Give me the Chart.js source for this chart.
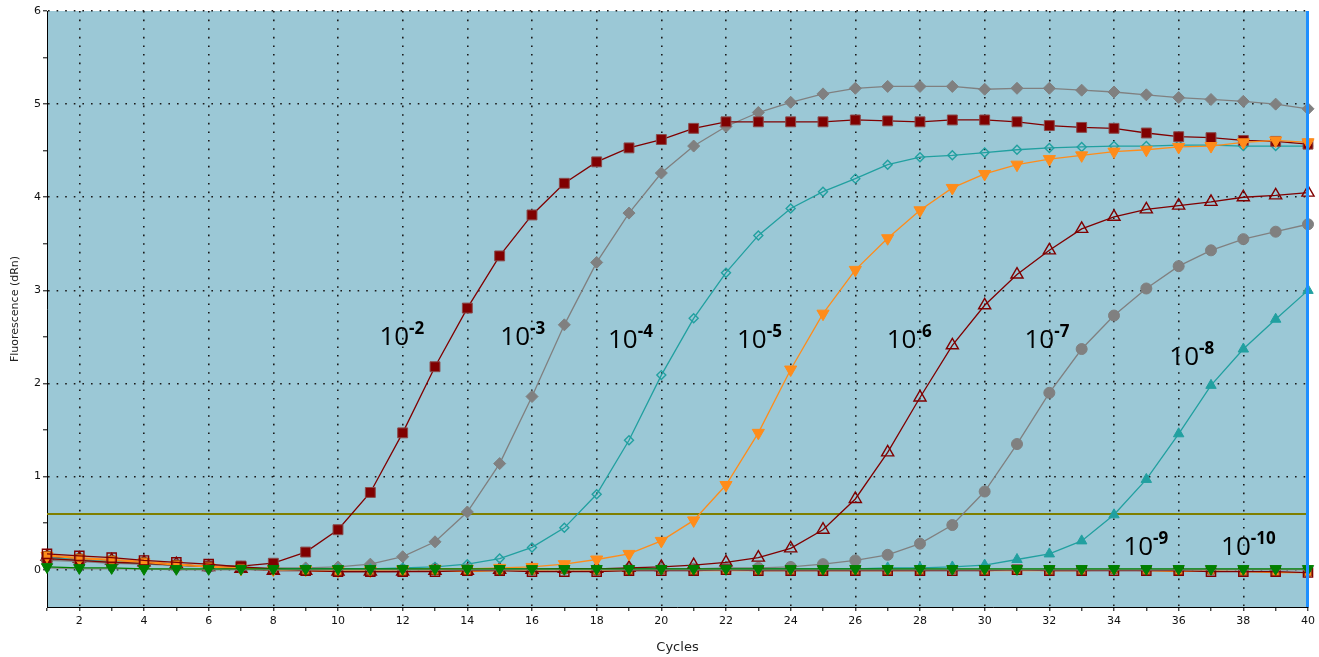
<!DOCTYPE html>
<html>
<head>
<meta charset="utf-8">
<script src="https://cdn.jsdelivr.net/npm/chart.js@4.4.1/dist/chart.umd.min.js"></script>
<style>
  html, body { margin: 0; padding: 0; background: #fff; }
  #wrap { width: 1319px; height: 657px; }
</style>
</head>
<body>
<div id="wrap"><canvas id="qpcr" width="1319" height="657"></canvas></div>
<script>
const cycles = [1,2,3,4,5,6,7,8,9,10,11,12,13,14,15,16,17,18,19,20,21,22,23,24,25,26,27,28,29,30,31,32,33,34,35,36,37,38,39,40];
const yTickValues = [0,0.5,1,1.5,2,2.5,3,3.5,4,4.5,5,5.5,6];
const thresholdValue = 0.6;

// dilution series (dRn per cycle)
const dil2 = [0.12,0.10,0.08,0.07,0.05,0.04,0.04,0.07,0.19,0.43,0.83,1.47,2.18,2.81,3.37,3.81,4.15,4.38,4.53,4.62,4.74,4.81,4.81,4.81,4.81,4.83,4.82,4.81,4.83,4.83,4.81,4.77,4.75,4.74,4.69,4.65,4.64,4.61,4.60,4.57];
const dil3 = [0.10,0.09,0.07,0.06,0.05,0.03,0.02,0.02,0.02,0.03,0.06,0.14,0.30,0.62,1.14,1.86,2.63,3.30,3.83,4.26,4.55,4.76,4.91,5.02,5.11,5.17,5.19,5.19,5.19,5.16,5.17,5.17,5.15,5.13,5.10,5.07,5.05,5.03,5.00,4.95];
const dil4 = [0.13,0.11,0.09,0.07,0.05,0.03,0.02,0.01,0.01,0.01,0.01,0.02,0.03,0.06,0.12,0.24,0.45,0.81,1.39,2.09,2.70,3.19,3.59,3.88,4.06,4.20,4.35,4.43,4.45,4.48,4.51,4.53,4.54,4.55,4.55,4.56,4.56,4.55,4.55,4.55];
const dil5 = [0.15,0.12,0.10,0.08,0.05,0.03,0.01,0.00,0.00,-0.01,-0.01,0.00,0.01,0.01,0.02,0.03,0.06,0.11,0.17,0.31,0.53,0.91,1.47,2.15,2.75,3.22,3.56,3.86,4.10,4.25,4.35,4.41,4.45,4.49,4.51,4.54,4.55,4.59,4.61,4.59];
const dil6 = [0.14,0.12,0.10,0.08,0.06,0.03,0.01,-0.01,-0.01,-0.02,-0.02,-0.02,-0.01,-0.01,0.00,0.00,0.01,0.01,0.02,0.03,0.05,0.08,0.13,0.23,0.43,0.76,1.26,1.85,2.41,2.84,3.17,3.43,3.66,3.79,3.87,3.91,3.95,4.00,4.02,4.05];
const dil7 = [0.11,0.10,0.08,0.06,0.05,0.03,0.02,0.01,0.00,0.00,0.00,0.00,0.01,0.00,0.00,0.01,0.01,0.00,0.01,0.01,0.01,0.02,0.02,0.03,0.06,0.10,0.16,0.28,0.48,0.84,1.35,1.90,2.37,2.73,3.02,3.26,3.43,3.55,3.63,3.71];
const dil8 = [0.12,0.10,0.08,0.07,0.05,0.03,0.02,0.01,0.01,0.01,0.00,0.01,0.01,0.00,0.01,0.01,0.01,0.00,0.01,0.01,0.01,0.01,0.01,0.01,0.01,0.01,0.02,0.02,0.03,0.05,0.11,0.17,0.31,0.59,0.97,1.46,1.98,2.37,2.69,3.00];
const dil9 = [0.16,0.13,0.11,0.09,0.06,0.04,0.02,0.00,-0.01,-0.02,-0.01,-0.02,-0.01,-0.02,-0.01,-0.01,0.00,-0.01,-0.01,0.00,-0.01,-0.01,-0.01,-0.01,-0.01,-0.01,-0.01,-0.01,0.00,-0.01,-0.01,-0.01,-0.01,0.00,-0.01,-0.02,-0.01,-0.02,-0.03,-0.03];
const dil10 = [0.17,0.15,0.13,0.10,0.08,0.06,0.03,0.01,-0.01,-0.02,-0.02,-0.02,-0.02,-0.01,-0.01,-0.02,-0.02,-0.02,-0.01,-0.01,-0.01,0.00,-0.01,-0.01,-0.01,-0.01,-0.01,-0.01,-0.01,-0.01,0.00,-0.01,-0.01,-0.01,-0.01,-0.01,-0.02,-0.02,-0.02,-0.03];
const ntcA = [0.03,0.02,0.02,0.01,0.01,0.01,0.01,0.01,0.01,0.01,0.01,0.01,0.01,0.01,0.01,0.01,0.01,0.01,0.01,0.01,0.01,0.01,0.01,0.01,0.01,0.01,0.01,0.01,0.01,0.01,0.01,0.01,0.01,0.01,0.01,0.01,0.01,0.01,0.01,0.01];
const ntcB = [0.02,0.01,0.01,0.01,0.00,0.00,0.00,0.00,0.00,0.00,0.00,0.00,0.00,0.00,0.00,0.00,0.00,0.00,0.00,0.00,0.00,0.00,0.00,0.00,0.00,0.00,0.00,0.00,0.00,0.00,0.00,0.00,0.00,0.00,0.00,0.00,0.00,0.00,0.00,0.00];

// dilution labels: exponent, cycle, dRn (baseline of the "10")
const labelExp = ['-2','-3','-4','-5','-6','-7','-8','-9','-10'];
const labelCycle = [11.28,15.02,18.35,22.34,26.97,31.23,35.71,34.29,37.31];
const labelValue = [2.41,2.41,2.38,2.38,2.38,2.38,2.20,0.16,0.16];

const RED = '#800000', GREY = '#808080', TEAL = '#21a0a0', ORANGE = '#ff8c1a', GREEN = '#008000';

function pts(vals) {
    return vals.map((v, i) => ({ x: cycles[i], y: v }));
}

function series(vals, color, style, radius, filled, extra) {
    return Object.assign({
        data: pts(vals),
        borderColor: color,
        borderWidth: 1.3,
        pointStyle: style,
        pointRadius: radius,
        pointBackgroundColor: filled ? color : 'rgba(0,0,0,0)',
        pointBorderColor: color,
        pointBorderWidth: filled ? 1 : 1.4,
        tension: 0,
        clip: false
    }, extra || {});
}

const bgPlugin = {
    id: 'plotBg',
    beforeDraw(chart) {
        const { ctx, chartArea: a } = chart;
        ctx.save();
        ctx.fillStyle = '#9bc8d6';
        ctx.fillRect(a.left, a.top, a.right - a.left, a.bottom - a.top);
        ctx.restore();
    },
    afterDraw(chart) {
        const { ctx, chartArea: a } = chart;
        ctx.save();
        ctx.strokeStyle = '#1e8fff';
        ctx.lineWidth = 3;
        ctx.beginPath();
        ctx.moveTo(a.right - 0.5, a.top);
        ctx.lineTo(a.right - 0.5, a.bottom);
        ctx.stroke();
        ctx.restore();
    }
};

const labelPlugin = {
    id: 'dilLabels',
    afterDatasetsDraw(chart) {
        const { ctx } = chart;
        const xs = chart.scales.x, ys = chart.scales.y;
        ctx.save();
        ctx.fillStyle = '#000';
        ctx.textBaseline = 'alphabetic';
        ctx.textAlign = 'left';
        labelExp.forEach((exp, i) => {
            const x = xs.getPixelForValue(labelCycle[i]);
            const y = ys.getPixelForValue(labelValue[i]);
            ctx.font = '26px "Open Sans", sans-serif';
            ctx.fillText('10', x, y);
            const w = ctx.measureText('10').width;
            ctx.font = 'bold 17px "Open Sans", sans-serif';
            ctx.fillText(exp, x + w, y - 11);
        });
        ctx.restore();
    }
};

new Chart(document.getElementById('qpcr'), {
    type: 'line',
    data: {
        datasets: [
            series(ntcA, GREEN, 'triangle', 6.5, true, { pointRotation: 180, order: 0 }),
            series(ntcB, '#8a8a8a', 'circle', 3, true, { pointBackgroundColor: '#7030a0', pointBorderColor: '#7030a0', order: 1 }),
            series(dil10, RED, 'rect', 6.5, false, { order: 2 }),
            series(dil9, ORANGE, 'rect', 5, true, { pointBorderColor: '#a05010', order: 3 }),
            series(dil5, ORANGE, 'triangle', 7, true, { pointRotation: 180, order: 4 }),
            series(dil2, RED, 'rect', 7, true, { pointBorderColor: '#8a4a4a', order: 5 }),
            series(dil4, TEAL, 'rectRot', 4.5, false, { order: 6 }),
            series(dil3, GREY, 'rectRot', 6, true, { order: 7 }),
            series(dil6, RED, 'triangle', 7, false, { order: 8 }),
            series(dil7, GREY, 'circle', 5.5, true, { order: 9 }),
            series(dil8, TEAL, 'triangle', 6, true, { order: 10 }),
            {
                data: [{ x: cycles[0], y: thresholdValue }, { x: cycles[cycles.length - 1], y: thresholdValue }],
                borderColor: '#7f7f00',
                borderWidth: 2,
                pointRadius: 0,
                order: 20
            }
        ]
    },
    plugins: [bgPlugin, labelPlugin],
    options: {
        responsive: false,
        animation: false,
        events: [],
        layout: { padding: { top: 11, right: 9, left: 0, bottom: 0 } },
        plugins: {
            legend: { display: false },
            tooltip: { enabled: false }
        },
        scales: {
            x: {
                type: 'linear',
                min: 1,
                max: 40,
                afterFit(scale) { scale.height = 50; },
                ticks: {
                    stepSize: 1,
                    autoSkip: false,
                    maxRotation: 0,
                    padding: 4,
                    color: '#111',
                    font: { family: 'DejaVu Sans', size: 11 },
                    callback: (v) => (v % 2 === 0 ? String(v) : '')
                },
                grid: {
                    color: (c) => (c.tick && c.tick.value % 2 === 0 ? '#1a1a1a' : 'rgba(0,0,0,0)'),
                    lineWidth: 1.6,
                    tickColor: '#000',
                    tickLength: 4,
                    tickWidth: 1
                },
                border: { color: '#000', width: 1, dash: [1.6, 7] },
                title: {
                    display: true,
                    text: 'Cycles',
                    color: '#222',
                    font: { family: 'DejaVu Sans', size: 13 },
                    padding: { top: 0, bottom: 2 }
                }
            },
            y: {
                min: -0.4,
                max: 6,
                afterFit(scale) { scale.width = 47; },
                afterBuildTicks(scale) { scale.ticks = yTickValues.map(v => ({ value: v })); },
                ticks: {
                    padding: 2,
                    color: '#111',
                    font: { family: 'DejaVu Sans', size: 11 },
                    callback: (v) => (Number.isInteger(v) ? String(v) : '')
                },
                grid: {
                    color: (c) => (c.tick && Number.isInteger(c.tick.value) ? '#1a1a1a' : 'rgba(0,0,0,0)'),
                    lineWidth: 1.6,
                    tickColor: '#000',
                    tickLength: 4,
                    tickWidth: 1
                },
                border: { color: '#000', width: 1, dash: [1.6, 7] },
                title: {
                    display: true,
                    text: 'Fluorescence (dRn)',
                    color: '#222',
                    font: { family: 'DejaVu Sans', size: 11 },
                    padding: { top: 9, bottom: 0 }
                }
            }
        }
    }
});
</script>
</body>
</html>
